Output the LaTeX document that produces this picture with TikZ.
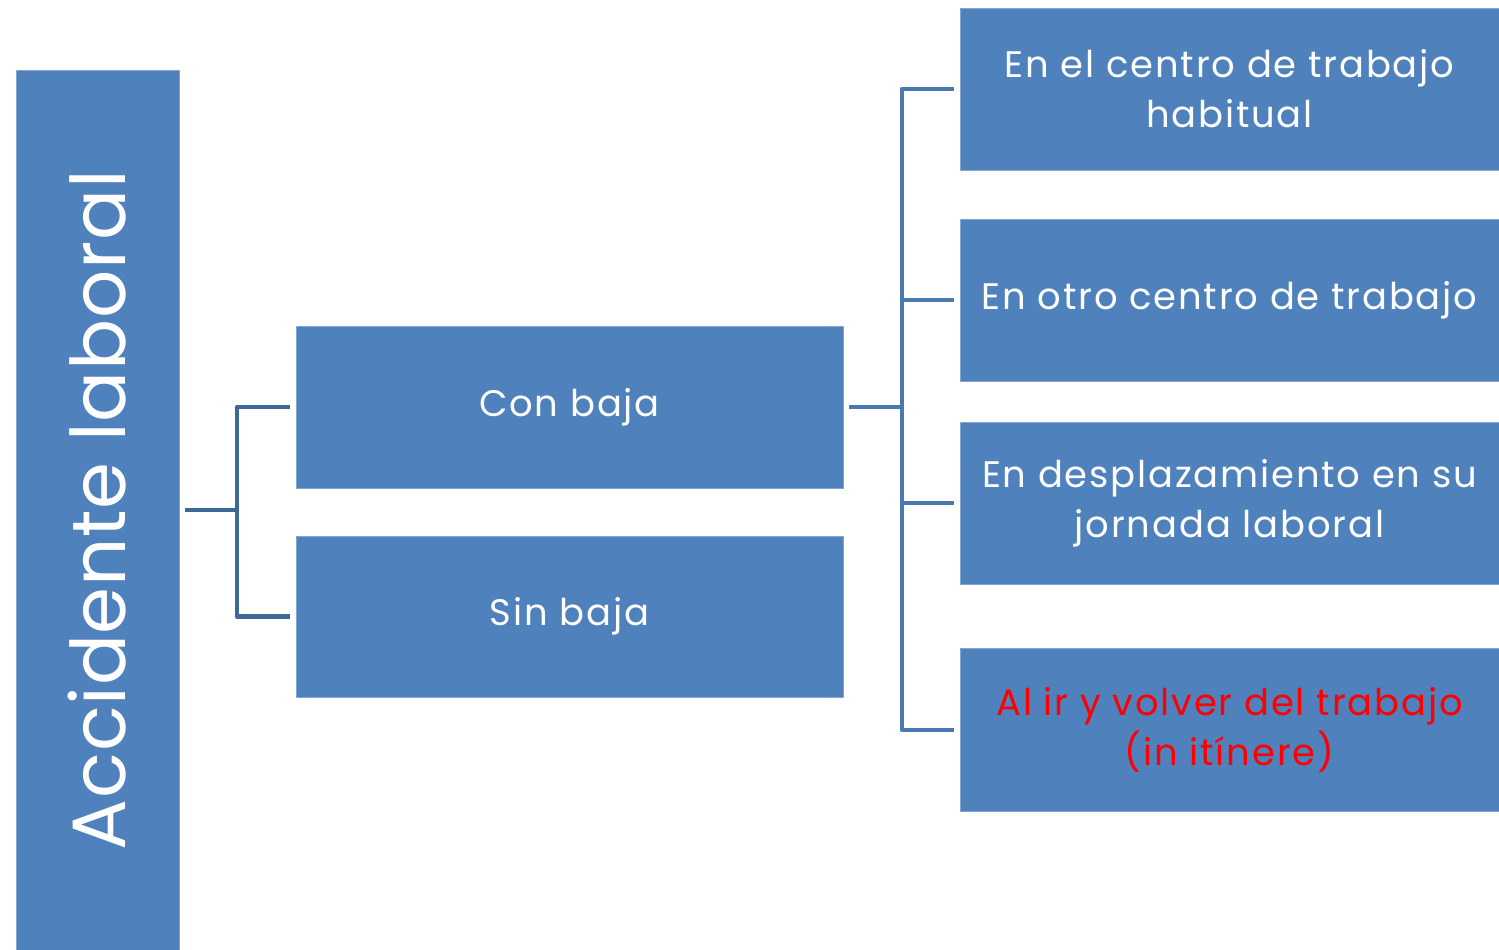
\documentclass[tikz,border=0pt]{standalone}
\usepackage{fontspec}
\setmainfont{Poppins}
\newfontfamily\boxfont[LetterSpace=5]{Poppins}
\newfontfamily\titlefont[LetterSpace=1]{Poppins}
\usetikzlibrary{positioning}
\definecolor{boxblue}{HTML}{4F81BD}
\definecolor{linkdark}{HTML}{3E6896}
\definecolor{linkblue}{HTML}{4A78B0}
\begin{document}
\begin{tikzpicture}[x=0.2mm,y=-0.2mm,
  bluebox/.style={fill=boxblue,draw=boxblue!70!white,thin,text=white,align=center,
    inner sep=0pt,outer sep=1.2mm,font=\boxfont\fontsize{21}{28.5}\selectfont},
  link/.style={line width=0.9mm,line join=round}]
\useasboundingbox (0,0) rectangle (1499,950);

% Left column
\node[bluebox,minimum width=32.6mm,minimum height=176mm] (acc) at (97.5,510)
  {\rotatebox{90}{\titlefont\fontsize{43}{50}\selectfont Accidente laboral}};

% Middle column
\node[bluebox,minimum width=109.4mm,minimum height=32.4mm] (con) at (569.5,407) {Con baja};
\node[bluebox,minimum width=109.4mm,minimum height=32.2mm] (sin) at (569.5,616.5) {Sin baja};

% Right column
\node[bluebox,minimum width=107.8mm,minimum height=32.4mm] (habitual) at (1229.5,89)
  {En el centro de trabajo\\habitual};
\node[bluebox,minimum width=107.8mm,minimum height=32.4mm] (otro) at (1229.5,300)
  {En otro centro de trabajo};
\node[bluebox,minimum width=107.8mm,minimum height=32.4mm] (jornada) at (1229.5,503)
  {En desplazamiento en su\\jornada laboral};
\node[bluebox,minimum width=107.8mm,minimum height=32.6mm,text=red] (itinere) at (1229.5,730)
  {Al ir y volver del trabajo\\(in itínere)};

% Connectors
\draw[link,linkdark] (acc.east) -- ++(52,0) coordinate (j1) |- (con.west);
\draw[link,linkdark] (j1) |- (sin.west);
\draw[link,linkblue] (con.east) -- ++(53,0) coordinate (j2) |- (habitual.west);
\foreach \b in {otro,jornada,itinere}
  \draw[link,linkblue] (j2) |- (\b.west);
\end{tikzpicture}
\end{document}
